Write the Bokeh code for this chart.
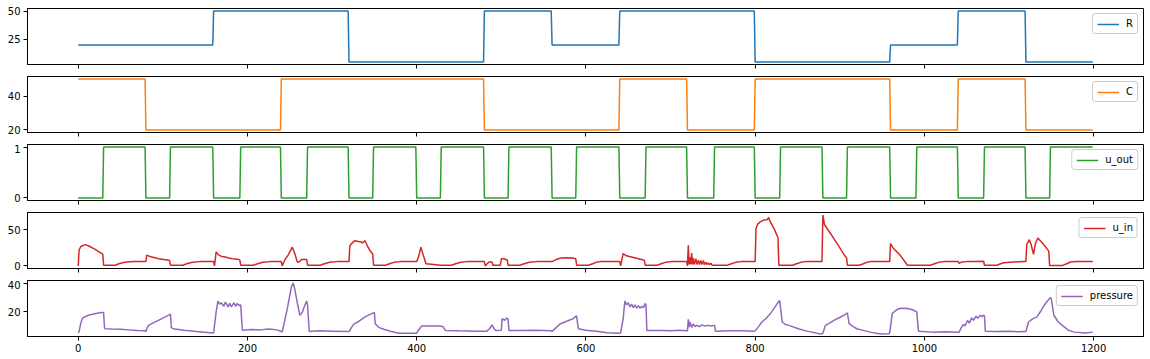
import numpy as np
from bokeh.plotting import figure
from bokeh.layouts import column
from bokeh.models import Range1d, FixedTicker, CustomJSTickFormatter
from bokeh.embed import file_html
from bokeh.resources import INLINE

# ---------------- data ----------------
steps_per_breath = 80
R_breath = [20, 20, 50, 50, 5, 5, 50, 20, 50, 50, 5, 5, 20, 50, 5]
C_breath = [50, 20, 20, 50, 50, 50, 20, 20, 50, 20, 50, 50, 20, 50, 20]
insp_len = [30, 29, 32, 31, 29, 29, 29, 29, 31, 32, 30, 29, 31, 31, 29]

u_in_x = [0, 1, 3, 8, 12, 20, 28, 29, 30, 44, 48, 55, 65, 79,
          80, 81, 85, 95, 107, 108, 109, 124, 128, 135, 144, 159,
          160, 161, 163, 166, 170, 175, 178, 182, 186, 190, 191, 192, 207, 212, 218, 227, 239,
          240, 241, 244, 248, 253, 256, 259, 262, 264, 270, 271, 286, 291, 297, 306, 319,
          320, 321, 324, 327, 331, 334, 336, 339, 342, 345, 348, 349, 363, 368, 373, 380, 399,
          400, 402, 405, 408, 411, 420, 428, 441, 446, 452, 459, 479,
          480, 481, 484, 486, 489, 490, 499, 500, 503, 506, 507, 508, 522, 527, 533, 542, 559,
          560, 565, 570, 578, 584, 588, 589, 603, 608, 612, 617, 639,
          640, 641, 644, 648, 655, 662, 668, 669, 670, 684, 689, 694, 700, 719,
          720, 721, 722, 723, 724, 725, 726, 727, 728, 730, 731, 733, 734, 736, 737, 739, 740,
          742, 743, 745, 746, 748, 749, 767, 772, 777, 783, 799,
          800, 801, 803, 806, 810, 814, 816, 817, 819, 823, 827, 828, 844, 849, 854, 859, 879,
          880, 882, 889, 899, 906, 908, 909, 923, 928, 932, 936, 959,
          960, 963, 972, 980, 1007, 1012, 1017, 1023, 1039,
          1040, 1041, 1043, 1050, 1060, 1070, 1071, 1086, 1090, 1094, 1105, 1117, 1119,
          1120, 1121, 1124, 1126, 1129, 1131, 1134, 1140, 1147, 1148, 1163, 1168, 1173, 1180, 1199]
u_in_y = [0, 22, 27, 29.5, 28, 23, 17, 16.5, 1, 1, 3, 5, 6, 6,
          6, 15, 13, 10, 8, 7.5, 1, 1, 3, 5, 6, 6,
          6, 0, 19.5, 15, 13, 12, 11, 10, 9.5, 9, 8, 1, 1, 3, 5, 6, 6,
          6, 0, 8, 15, 26, 17, 5, 6.5, 9, 9, 1, 1, 3, 5, 6, 6,
          6, 28, 32, 35, 34, 33.5, 32, 35, 27, 21, 16.5, 1, 1, 3, 5, 6, 6,
          6, 12, 26, 14, 3, 2, 1, 1, 3, 5, 6, 6,
          6, 0, 4, 5.5, 5.5, 1, 1, 10, 10, 8.6, 8.6, 1, 1, 3, 5, 6, 6,
          6, 9, 11, 11.5, 11, 10, 1, 1, 3, 5, 6, 6,
          6, 0, 17, 14, 12, 10, 8.2, 8, 1, 1, 3, 5, 6, 6,
          0, 28.5, 2, 12, 2, 18, 2, 11, 2, 10, 2, 8, 2, 7.5, 2, 7.5, 2,
          5, 2, 4, 2, 3.5, 1, 1, 3, 5, 6, 6,
          6, 52, 58, 61, 63.5, 64, 67, 63, 59, 50, 39, 1, 1, 3, 5, 6, 6,
          70.5, 57, 45, 27, 14, 11.5, 1, 1, 3, 5, 6, 6,
          31, 25, 14, 1, 1, 3, 5, 6, 6,
          6, 3.5, 5, 6, 6.3, 6.5, 1, 1, 3, 4.5, 5.5, 6, 6,
          6, 29.5, 36.4, 30, 16, 30, 38.6, 31, 20.5, 0.5, 0.5, 3, 5.5, 6, 6]

p_x = [0, 1, 3, 5, 8, 12, 18, 24, 28, 30, 31, 32, 40, 50, 60, 70, 79,
       80, 81, 83, 90, 100, 108, 109, 110, 112, 125, 140, 159,
       160, 163, 165, 167, 169, 172, 174, 177, 179, 181, 184, 186, 188, 190, 192, 194,
       205, 215, 225, 235, 240,
       241, 247, 252, 254, 256, 259, 262, 265, 268, 270, 271, 273, 285, 300, 319,
       320, 323, 326, 331, 339, 345, 349, 350, 351, 355, 362, 370, 379, 399,
       400, 402, 406, 410, 420, 428, 431, 434, 450, 470, 483,
       486, 489, 491, 493, 500, 501, 504, 506, 508, 509, 520, 540, 559,
       560, 565, 570, 578, 585, 588, 589, 591, 600, 615, 625, 639,
       641, 644, 646, 648, 650, 652, 654, 656, 658, 660, 662, 664, 666, 668, 670, 671, 672,
       690, 700, 710, 719,
       720, 721, 722, 723, 725, 727, 729, 731, 734, 737, 740, 744, 748, 752, 753, 770, 785, 799,
       800, 804, 808, 813, 818, 823, 828, 829, 832, 836, 840, 851, 860, 867, 877, 879,
       880, 883, 888, 893, 900, 908, 909, 911, 916, 920, 930, 936, 948, 958,
       959, 962, 965, 970, 975, 980, 986, 991, 993, 1010, 1025, 1040,
       1041, 1044, 1046, 1048, 1051, 1053, 1056, 1058, 1061, 1063, 1066, 1068, 1070, 1071, 1072,
       1085, 1100, 1110, 1119,
       1120, 1123, 1128, 1133, 1138, 1143, 1149, 1150, 1153, 1158, 1163, 1170, 1177, 1190, 1199]
p_y = [5, 6, 12, 15.5, 16.5, 17.6, 18.5, 19.2, 19.5, 19.5, 9, 8, 7.8, 7.6, 7.2, 6.8, 6.5,
       6, 8, 10.4, 12.5, 15.5, 18, 18.5, 9, 8, 7, 6, 5,
       5, 20, 27.7, 25.5, 26.5, 24, 27, 23.5, 26, 23.5, 26.5, 24, 26, 24.5, 25, 7,
       7.5, 7.2, 7.8, 7.2, 6,
       5.6, 22, 38, 40.5, 36, 26, 17.6, 20, 25, 27.7, 25, 6.1, 6.5, 6.3, 6,
       6, 9, 11.5, 13, 16.4, 18.2, 19.3, 19.5, 11.6, 9, 7.5, 6, 4.8, 4.8,
       4.8, 7, 9.9, 10, 10, 10, 9.5, 6.8, 6.5, 6.3, 6.3,
       8, 10.8, 8.5, 6.8, 7, 15.2, 14, 15.5, 15, 6.8, 6.7, 6.9, 6.5,
       6, 9, 11.6, 13.5, 15.2, 16.9, 17, 8, 7, 6, 5.2, 4.8,
       5, 15, 27.7, 25, 26.5, 23.6, 25.5, 23, 25, 22.6, 24.5, 22.6, 24, 23, 26, 25, 6.8,
       6.8, 6.5, 6.9, 6.5,
       6.5, 14.7, 9.2, 12.8, 9, 11.5, 9.5, 10.5, 9.5, 10.8, 10, 10.4, 10, 10.4, 6.3, 6.5, 6.5, 6.3,
       6.5, 9.5, 12.8, 15.5, 18.8, 23, 27.7, 28, 12.8, 11, 10.4, 8, 6.5, 5.6, 4.3, 4.5,
       4.8, 10.4, 12, 14, 16, 18.8, 19.3, 11.6, 9.5, 8, 6.5, 5.6, 4.3, 4.5,
       5, 18.8, 20.5, 22.4, 22.6, 22.4, 21.5, 20, 6.3, 5.6, 5.8, 5.6,
       5.6, 9.2, 11, 10, 14, 12, 15.7, 14, 16.9, 15.5, 17.6, 16.5, 17.8, 17, 6.3,
       6, 6.2, 5.8, 6,
       6, 12.8, 15, 16.4, 21, 26, 30.3, 29, 17.6, 13, 10.4, 7, 5.6, 5, 5.6]

x_ticks = [0, 200, 400, 600, 800, 1000, 1200]
R_ticks = [25, 50]
C_ticks = [20, 40]
u_out_ticks = [0, 1]
u_in_ticks = [0, 50]
p_ticks = [20, 40]

# ---------------- build series ----------------
n = steps_per_breath * len(R_breath)
t = np.arange(n)
R = np.repeat(R_breath, steps_per_breath)
C = np.repeat(C_breath, steps_per_breath)
u_out = np.concatenate([[0] * L + [1] * (steps_per_breath - L) for L in insp_len])

series = [
    ("R", t, R, "#1f77b4", R_ticks),
    ("C", t, C, "#ff7f0e", C_ticks),
    ("u_out", t, u_out, "#2ca02c", u_out_ticks),
    ("u_in", u_in_x, u_in_y, "#d62728", u_in_ticks),
    ("pressure", p_x, p_y, "#9467bd", p_ticks),
]

FONT = "DejaVu Sans"
xmin, xmax = 0, n - 1
xpad = 0.05 * (xmax - xmin)
x_range = Range1d(xmin - xpad, xmax + xpad)

figs = []
for i, (name, xs, ys, color, yt) in enumerate(series):
    last = i == len(series) - 1
    ymin, ymax = float(np.min(ys)), float(np.max(ys))
    ypad = 0.05 * (ymax - ymin)
    p = figure(
        frame_width=1116, frame_height=56,
        x_range=x_range, y_range=Range1d(ymin - ypad, ymax + ypad),
        output_backend="svg", toolbar_location=None,
        min_border_left=27, min_border_right=1,
        min_border_top=8 if i == 0 else 0,
        min_border_bottom=20 if last else 12,
        background_fill_color="white", border_fill_color="white",
    )
    p.line(xs, ys, line_color=color, line_width=1.5, legend_label=name)
    p.grid.visible = False
    p.outline_line_color = "black"
    p.outline_line_width = 1
    for ax in (p.xaxis[0], p.yaxis[0]):
        ax.axis_line_color = "black"
        ax.major_tick_line_color = "black"
        ax.major_tick_out = 4
        ax.major_tick_in = 0
        ax.minor_tick_line_color = None
        ax.major_label_text_font = FONT
        ax.major_label_text_font_size = "10px"
        ax.major_label_text_color = "black"
        ax.major_label_standoff = 3
    p.xaxis.ticker = FixedTicker(ticks=x_ticks)
    p.yaxis.ticker = FixedTicker(ticks=yt)
    if not last:
        p.xaxis.formatter = CustomJSTickFormatter(code="return ''")
        p.xaxis.major_label_text_font_size = "0px"
        p.xaxis.major_label_standoff = 0
    lg = p.legend[0]
    lg.location = "top_right"
    lg.margin = 5
    lg.padding = 4
    lg.spacing = 0
    lg.label_text_font = FONT
    lg.label_text_font_size = "10px"
    lg.label_text_color = "black"
    lg.label_width = 0
    lg.label_height = 10
    lg.glyph_height = 10
    lg.glyph_width = 22
    lg.label_standoff = 7
    lg.border_line_color = "#cccccc"
    lg.border_line_alpha = 1.0
    lg.background_fill_alpha = 0.8
    if "border_radius" in lg.properties():
        lg.border_radius = 3
    figs.append(p)

layout = column(*figs, spacing=0)
open("out.html", "w").write(file_html(layout, INLINE))
